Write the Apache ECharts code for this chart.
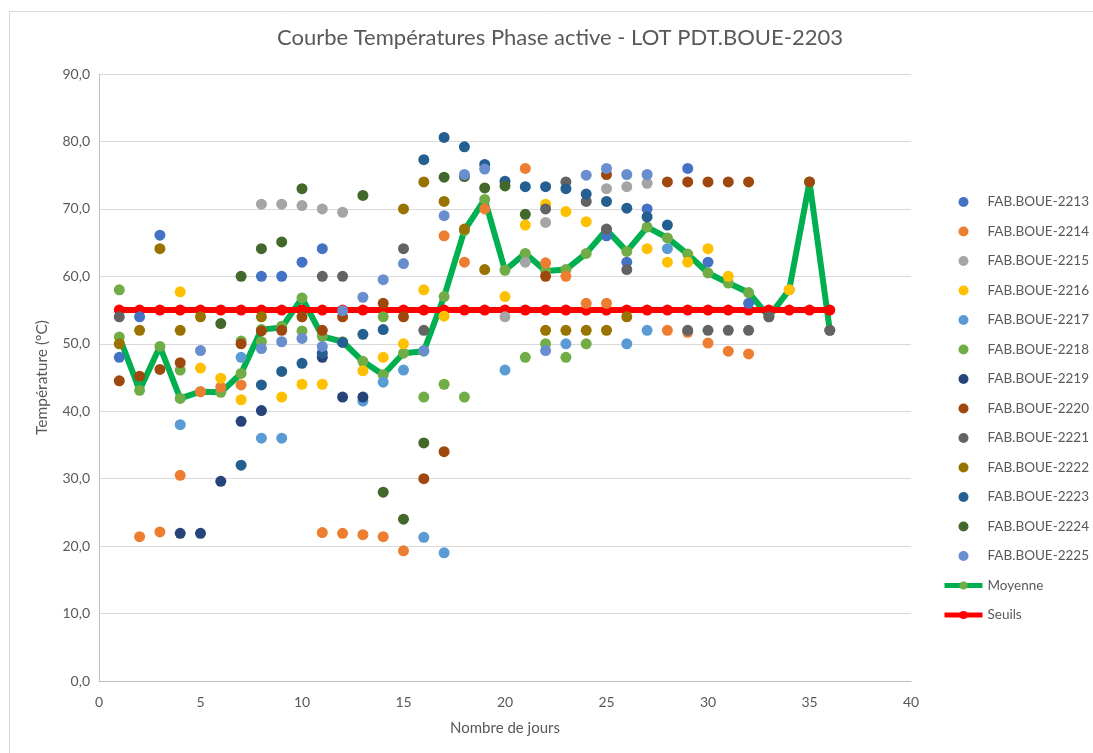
<!DOCTYPE html>
<html>
<head>
<meta charset="utf-8">
<script src="https://cdn.jsdelivr.net/npm/echarts@6/dist/echarts.min.js"></script>
<style>
html,body{margin:0;padding:0;background:#fff;}
#chart{width:1093px;height:753px;}
</style>
</head>
<body>
<div id="chart"></div>
<script>
// ---- Data (day, temperature °C) ----
const s2213 = [[1,48.0],[2,54.0],[3,66.1],[8,60.0],[9,60.0],[10,62.1],[11,64.1],[25,66.0],[26,62.1],[27,70.0],[29,76.0],[30,62.1],[32,56.0]];
const s2214 = [[2,21.4],[3,22.1],[4,30.5],[5,42.9],[6,43.6],[7,43.9],[11,22.0],[12,21.9],[13,21.7],[14,21.4],[15,19.3],[17,66.0],[18,62.1],[19,70.0],[21,76.0],[22,62.0],[23,60.0],[24,56.0],[25,56.0],[28,52.0],[29,51.7],[30,50.1],[31,48.9],[32,48.5]];
const s2215 = [[8,70.7],[9,70.7],[10,70.5],[11,70.0],[12,69.5],[20,54.0],[21,62.1],[22,68.0],[25,73.0],[26,73.3],[27,73.8]];
const s2216 = [[4,57.7],[5,46.4],[6,44.9],[7,41.7],[9,42.1],[10,44.0],[11,44.0],[13,46.0],[14,48.0],[15,50.0],[16,58.0],[17,54.1],[20,57.0],[21,67.6],[22,70.7],[23,69.6],[24,68.1],[27,64.1],[28,62.1],[29,62.1],[30,64.1],[31,60.0],[34,58.0]];
const s2217 = [[4,38.0],[7,48.0],[8,36.0],[9,36.0],[13,41.5],[14,44.3],[15,46.1],[16,21.3],[17,19.0],[20,46.1],[23,50.0],[26,50.0],[27,52.0],[28,64.1]];
const s2218 = [[1,58.0],[4,46.1],[7,50.4],[8,50.3],[9,52.6],[10,51.9],[14,54.0],[16,42.1],[17,44.0],[18,42.1],[21,48.0],[22,50.0],[23,48.0],[24,50.0]];
const s2219 = [[4,21.9],[5,21.9],[6,29.6],[7,38.5],[8,40.1],[11,48.0],[12,42.1],[13,42.1]];
const s2220 = [[1,44.5],[2,45.2],[3,46.2],[4,47.2],[7,50.0],[8,51.9],[9,52.0],[10,54.0],[11,52.0],[12,54.0],[14,56.0],[15,54.0],[16,30.0],[17,34.0],[22,60.0],[25,75.1],[28,74.0],[29,74.0],[30,74.0],[31,74.0],[32,74.0],[35,74.0]];
const s2221 = [[1,54.0],[11,60.0],[12,60.0],[15,64.1],[16,52.0],[22,70.0],[23,74.0],[24,71.1],[25,67.0],[26,61.0],[29,52.0],[30,52.0],[31,52.0],[32,52.0],[33,54.0],[36,52.0]];
const s2222 = [[1,50.0],[2,52.0],[3,64.1],[4,52.0],[5,54.0],[8,54.0],[15,70.0],[16,74.0],[17,71.1],[18,67.0],[19,61.0],[22,52.0],[23,52.0],[24,52.0],[25,52.0],[26,54.0]];
const s2223 = [[7,32.0],[8,43.9],[9,45.9],[10,47.1],[11,48.6],[12,50.2],[13,51.4],[14,52.1],[16,77.3],[17,80.6],[18,79.2],[19,76.6],[20,74.1],[21,73.3],[22,73.3],[23,73.0],[24,72.2],[25,71.1],[26,70.1],[27,68.8],[28,67.6]];
const s2224 = [[6,53.0],[7,60.0],[8,64.1],[9,65.1],[10,73.0],[13,72.0],[14,28.0],[15,24.0],[16,35.3],[17,74.7],[18,74.8],[19,73.1],[20,73.4],[21,69.2]];
const s2225 = [[5,49.0],[8,49.3],[9,50.3],[10,50.8],[11,49.6],[12,54.9],[13,56.9],[14,59.5],[15,61.9],[16,49.0],[17,69.0],[18,75.1],[19,75.9],[22,49.0],[24,75.0],[25,76.0],[26,75.1],[27,75.1]];
const days = [1,2,3,4,5,6,7,8,9,10,11,12,13,14,15,16,17,18,19,20,21,22,23,24,25,26,27,28,29,30,31,32,33,34,35,36];
const moyenne = [51.0,43.1,49.6,41.9,42.9,42.8,45.6,52.1,52.4,56.8,51.1,50.3,47.4,45.4,48.6,48.9,57.0,66.8,71.4,60.9,63.4,60.8,61.0,63.4,66.9,63.7,67.3,65.7,63.3,60.5,59.0,57.6,54.0,58.0,74.0,52.0];
const seuils = [55,55,55,55,55,55,55,55,55,55,55,55,55,55,55,55,55,55,55,55,55,55,55,55,55,55,55,55,55,55,55,55,55,55,55,55];
const xTicks = [0,5,10,15,20,25,30,35,40];
const yTicks = [0,10,20,30,40,50,60,70,80,90];

const scatterDefs = [
  ['FAB.BOUE-2213', s2213, '#4472C4'],
  ['FAB.BOUE-2214', s2214, '#ED7D31'],
  ['FAB.BOUE-2215', s2215, '#A5A5A5'],
  ['FAB.BOUE-2216', s2216, '#FFC000'],
  ['FAB.BOUE-2217', s2217, '#5B9BD5'],
  ['FAB.BOUE-2218', s2218, '#70AD47'],
  ['FAB.BOUE-2219', s2219, '#264478'],
  ['FAB.BOUE-2220', s2220, '#9E480E'],
  ['FAB.BOUE-2221', s2221, '#636363'],
  ['FAB.BOUE-2222', s2222, '#997300'],
  ['FAB.BOUE-2223', s2223, '#255E91'],
  ['FAB.BOUE-2224', s2224, '#43682B'],
  ['FAB.BOUE-2225', s2225, '#698ED0']
];

const FONT = 'Lato, "Liberation Sans", sans-serif';
const TXT = '#595959';
const MS = 11;

const series = [];
series.push({
  name: 'Moyenne', type: 'line', data: days.map((d,i)=>[d, moyenne[i]]),
  symbol: 'circle', symbolSize: MS,
  lineStyle: {color: '#00B050', width: 6},
  itemStyle: {color: '#70AD47'},
  z: 2, animation: false
});
series.push({
  name: 'Seuils', type: 'line', data: days.map((d,i)=>[d, seuils[i]]),
  symbol: 'circle', symbolSize: MS,
  lineStyle: {color: '#FF0000', width: 6},
  itemStyle: {color: '#FF0000'},
  z: 3, animation: false
});
scatterDefs.forEach(([n, d, c]) => {
  series.push({
    name: n, type: 'scatter', data: d, symbol: 'circle', symbolSize: MS,
    itemStyle: {color: c, opacity: 1}, z: 4, animation: false
  });
});

const legendData = scatterDefs.map(s => ({name: s[0], icon: 'circle'})).concat([
  {name: 'Moyenne', lineStyle: {width: 5}},
  {name: 'Seuils', lineStyle: {width: 5}}
]);

const chart = echarts.init(document.getElementById('chart'), null, {renderer: 'canvas'});
chart.setOption({
  backgroundColor: '#fff',
  animation: false,
  textStyle: {fontFamily: FONT},
  title: {
    text: 'Courbe Températures Phase active - LOT PDT.BOUE-2203',
    left: 555, top: 22, textAlign: 'center',
    textStyle: {color: TXT, fontSize: 22, fontWeight: 'normal', fontFamily: FONT}
  },
  graphic: [{
    type: 'rect', left: 7, top: 9, shape: {width: 1100, height: 760},
    style: {fill: 'none', stroke: '#D9D9D9', lineWidth: 1}, silent: true, z: -10
  }],
  legend: {
    orient: 'vertical', left: 937, top: 190,
    itemWidth: 38, itemHeight: 10, itemGap: 15.5,
    data: legendData,
    textStyle: {color: TXT, fontSize: 13.5, lineHeight: 14, fontFamily: FONT}
  },
  grid: {left: 99, right: 182, top: 74, bottom: 72, containLabel: false},
  xAxis: {
    type: 'value', min: xTicks[0], max: xTicks[xTicks.length-1], interval: 5,
    name: 'Nombre de jours', nameLocation: 'middle', nameGap: 40,
    nameTextStyle: {color: TXT, fontSize: 15, fontFamily: FONT},
    axisLine: {show: true, lineStyle: {color: '#BFBFBF', width: 1}},
    axisTick: {show: false},
    axisLabel: {color: TXT, fontSize: 14, margin: 14, fontFamily: FONT},
    splitLine: {show: false}
  },
  yAxis: {
    type: 'value', min: yTicks[0], max: yTicks[yTicks.length-1], interval: 10,
    name: 'Température (°C)', nameLocation: 'middle', nameGap: 49, nameRotate: 90,
    nameTextStyle: {color: TXT, fontSize: 15.5, fontFamily: FONT},
    axisLine: {show: true, lineStyle: {color: '#BFBFBF', width: 1}},
    axisTick: {show: false},
    axisLabel: {color: TXT, fontSize: 14, margin: 9, fontFamily: FONT,
      formatter: v => v.toFixed(1).replace('.', ',')},
    splitLine: {show: true, lineStyle: {color: '#D9D9D9', width: 1}}
  },
  series: series
});
</script>
</body>
</html>
